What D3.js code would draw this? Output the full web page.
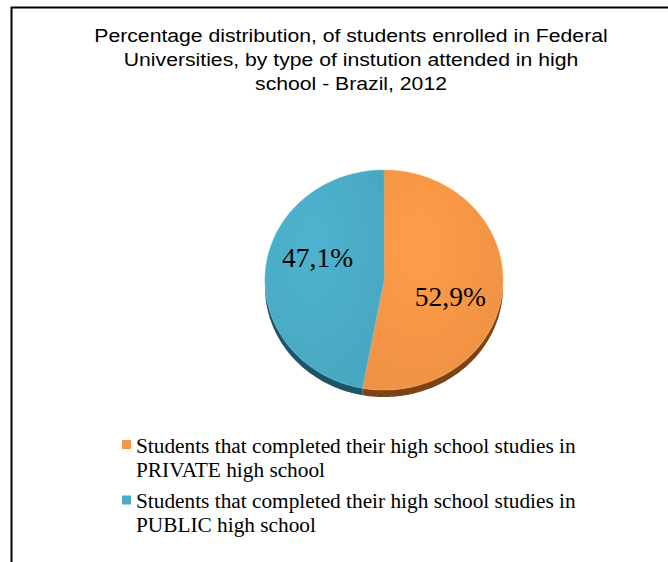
<!DOCTYPE html>
<html><head><meta charset="utf-8">
<script src="https://cdn.jsdelivr.net/npm/d3@7"></script>
<style>body{margin:0;background:#fff}svg{display:block}</style>
</head><body>
<svg id="c" width="668" height="562"></svg>
<script>
const titleLines = ["Percentage distribution, of students enrolled in Federal","Universities, by type of instution attended in high","school - Brazil, 2012"];
const categories = ["PRIVATE","PUBLIC"];
const legendLines = [["Students that completed their high school studies in","PRIVATE high school"],["Students that completed their high school studies in","PUBLIC high school"]];
const values = [52.9, 47.1];
const valueLabels = ["52,9%","47,1%"];
const colors = ["#F79646","#4BACC6"];
const sideColors = ["#7a4416","#1e5566"];

const svg = d3.select("#c");
svg.append("path").attr("d","M11.5,562 V7.5 H668").attr("fill","none").attr("stroke","#000").attr("stroke-width",2);

// title, horizontally stretched like the reference
const tWrap = svg.append("g");
const tg = tWrap.append("text").attr("font-family","Liberation Sans, Arial, sans-serif").attr("font-size",18.5).attr("fill","#000").attr("text-anchor","middle");
const tsp = titleLines.map((t,i)=>tg.append("tspan").attr("x",0).attr("y",42+i*24).text(t));
const w1 = tsp[0].node().getComputedTextLength();
const sxT = 514 / w1;
tWrap.attr("transform",`translate(351,0) scale(${sxT},1)`);

const cx=384, cy=280, rx=119, ry=110, depth=7;
const pie = d3.pie().sort(null).value(d=>d)(values);
const px = a => cx + rx*Math.sin(a), py = a => cy - ry*Math.cos(a);
function arcPath(a0,a1,dy){
  const n=Math.max(2,Math.ceil((a1-a0)/0.02));
  let pts=[];
  for(let i=0;i<=n;i++){const a=a0+(a1-a0)*i/n;pts.push([px(a),py(a)+dy]);}
  return pts;
}
const defs = svg.append("defs");
colors.forEach((c,i)=>{
  const g=defs.append("radialGradient").attr("id","g"+i).attr("cx","40%").attr("cy","35%").attr("r","75%");
  g.append("stop").attr("offset","0%").attr("stop-color",d3.color(c).brighter(0.12));
  g.append("stop").attr("offset","100%").attr("stop-color",d3.color(c).darker(0.1));
});
pie.forEach((s,i)=>{
  const a0=Math.max(s.startAngle,Math.PI/2), a1=Math.min(s.endAngle,3*Math.PI/2);
  if(a1<=a0) return;
  const top=arcPath(a0,a1,0), bot=arcPath(a0,a1,depth).reverse();
  svg.append("path").attr("d",d3.line()(top.concat(bot))+"Z").attr("fill",sideColors[i]);
});
pie.forEach((s,i)=>{
  const pts=[[cx,cy]].concat(arcPath(s.startAngle,s.endAngle,0));
  svg.append("path").attr("d",d3.line()(pts)+"Z").attr("fill","url(#g"+i+")").attr("stroke",d3.color(colors[i]).brighter(0.3)).attr("stroke-width",0.5);
});
// data labels (best-fit placement offsets)
const labelDy = [20, -7];
pie.forEach((s,i)=>{
  const m=(s.startAngle+s.endAngle)/2, f=0.56;
  svg.append("text").attr("x",cx+rx*f*Math.sin(m)).attr("y",cy-ry*f*Math.cos(m)+labelDy[i])
    .attr("text-anchor","middle").attr("font-family","Liberation Serif, Times New Roman, serif").attr("font-size",27.5).attr("fill","#000").text(valueLabels[i]);
});
// legend
const lg = svg.append("g");
legendLines.forEach((lines,i)=>{
  const y0=440+i*55.5;
  lg.append("rect").attr("x",122).attr("y",y0).attr("width",9).attr("height",9).attr("fill",colors[i]);
  const tw = lg.append("g");
  lines.forEach((t,j)=>tw.append("text").attr("x",0).attr("y",y0+12.7+j*24.3).attr("font-family","Liberation Serif, Times New Roman, serif").attr("font-size",20).attr("fill","#000").text(t));
  const w = tw.select("text").node().getComputedTextLength();
  tw.attr("transform",`translate(136,0) scale(${440/w},1)`);
});
</script>
</body></html>
